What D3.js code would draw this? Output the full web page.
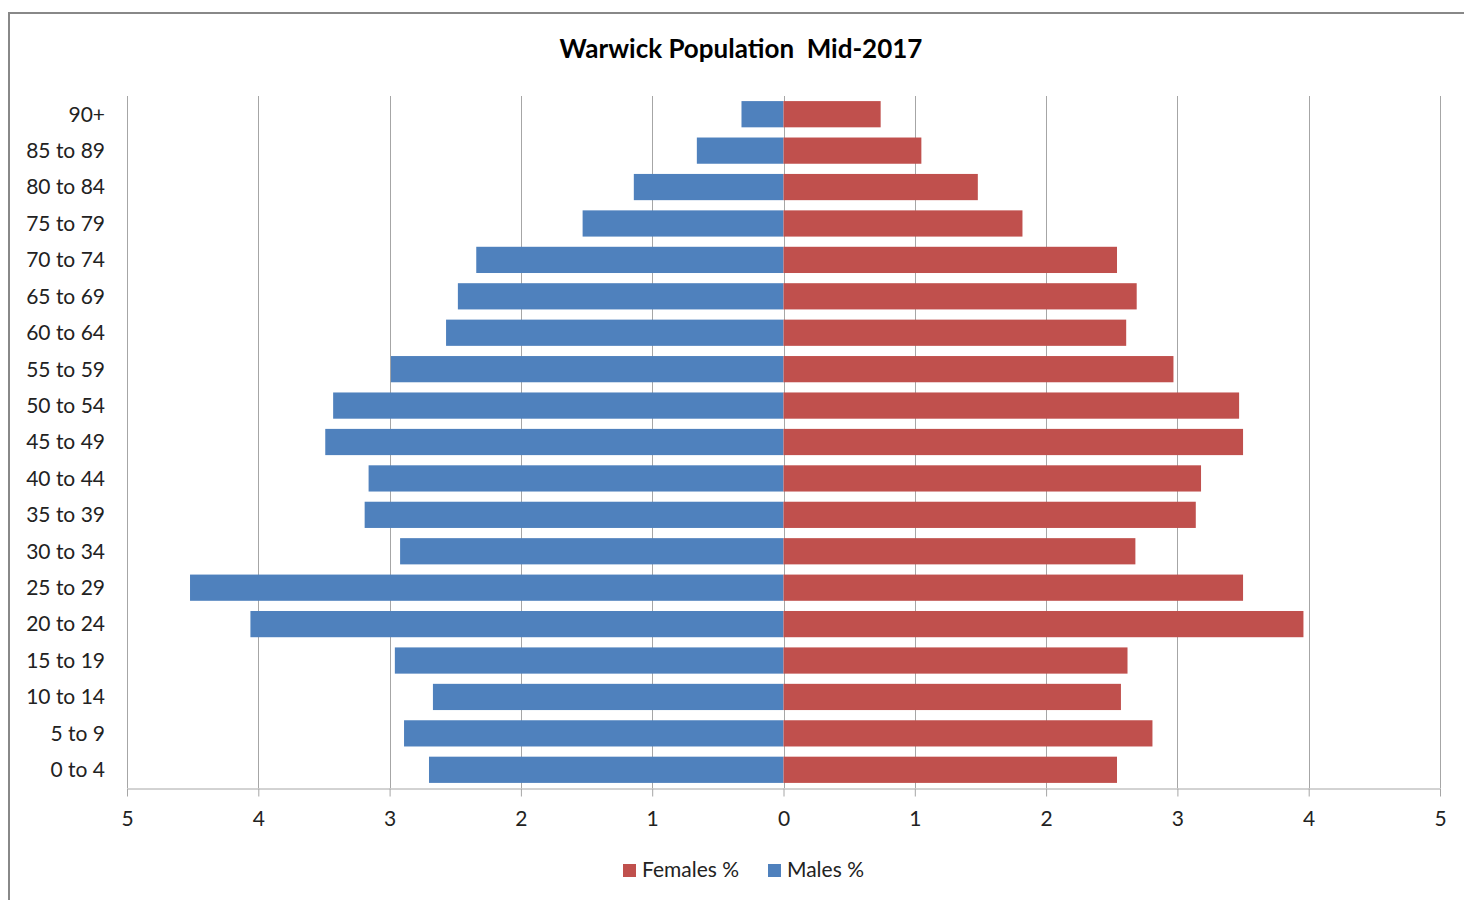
<!DOCTYPE html>
<html><head><meta charset="utf-8">
<script src="https://cdn.jsdelivr.net/npm/d3@7"></script>
<style>body{margin:0;background:#fff;}svg{display:block;font-family:Lato,"Open Sans",sans-serif;}text{white-space:pre;}</style>
</head><body><svg id="c" width="1464" height="900"></svg>
<script>
const categories = ["90+","85 to 89","80 to 84","75 to 79","70 to 74","65 to 69","60 to 64","55 to 59","50 to 54","45 to 49","40 to 44","35 to 39","30 to 34","25 to 29","20 to 24","15 to 19","10 to 14","5 to 9","0 to 4"];
const males = [0.32,0.66,1.14,1.53,2.34,2.48,2.57,2.99,3.43,3.49,3.16,3.19,2.92,4.52,4.06,2.96,2.67,2.89,2.70];
const females = [0.74,1.05,1.48,1.82,2.54,2.69,2.61,2.97,3.47,3.50,3.18,3.14,2.68,3.50,3.96,2.62,2.57,2.81,2.54];
const tickValues = [-5,-4,-3,-2,-1,0,1,2,3,4,5];
const title = "Warwick Population  Mid-2017";
const legendItems = [{name:"Females %", color:"#c0504d"},{name:"Males %", color:"#4f81bd"}];

const svg = d3.select("#c");
svg.append("rect").attr("x",9).attr("y",13).attr("width",1500).attr("height",1000)
  .attr("fill","none").attr("stroke","#888").attr("stroke-width",2);

const x = d3.scaleLinear().domain([-5,5]).range([127,1440]);
const y = d3.scaleBand().domain(categories).range([96,788]).paddingInner(0.28).paddingOuter(0.14);

// gridlines
svg.append("g").selectAll("line").data(tickValues).join("line")
  .attr("x1",d=>Math.round(x(d))+0.5).attr("x2",d=>Math.round(x(d))+0.5)
  .attr("y1",96).attr("y2",788).attr("stroke","#a6a6a6").attr("stroke-width",1);

svg.append("g").selectAll("rect").data(males).join("rect")
  .attr("x",d=>x(-d)).attr("width",d=>x(0)-x(-d))
  .attr("y",(d,i)=>y(categories[i])).attr("height",y.bandwidth()).attr("fill","#4f81bd");
svg.append("g").selectAll("rect").data(females).join("rect")
  .attr("x",x(0)).attr("width",d=>x(d)-x(0))
  .attr("y",(d,i)=>y(categories[i])).attr("height",y.bandwidth()).attr("fill","#c0504d");

// x axis
const xa = svg.append("g").attr("transform","translate(0,788.5)")
  .call(d3.axisBottom(x).tickValues(tickValues).tickFormat(d=>Math.abs(d)).tickSize(8).tickPadding(15).tickSizeOuter(0));
xa.select(".domain").attr("stroke","#a6a6a6");
xa.selectAll(".tick line").attr("stroke","#a6a6a6");
xa.selectAll("text").attr("font-size",21).attr("fill","#222").attr("font-family","Lato,sans-serif");

// y labels
svg.append("g").selectAll("text").data(categories).join("text")
  .attr("x",105).attr("y",d=>y(d)+y.bandwidth()/2).attr("dy","0.35em")
  .attr("text-anchor","end").attr("font-size",21).attr("fill","#222").text(d=>d);

svg.append("text").attr("x",741).attr("y",58).attr("text-anchor","middle")
  .attr("font-size",26).attr("font-weight","bold").attr("fill","#000").text(title);

const lg = svg.append("g");
const lx = [623,768];
legendItems.forEach((it,i)=>{
  lg.append("rect").attr("x",lx[i]).attr("y",864).attr("width",13).attr("height",13).attr("fill",it.color);
  lg.append("text").attr("x",lx[i]+19).attr("y",870).attr("dy","0.35em").attr("font-size",21).attr("fill","#222").text(it.name);
});
</script></body></html>
